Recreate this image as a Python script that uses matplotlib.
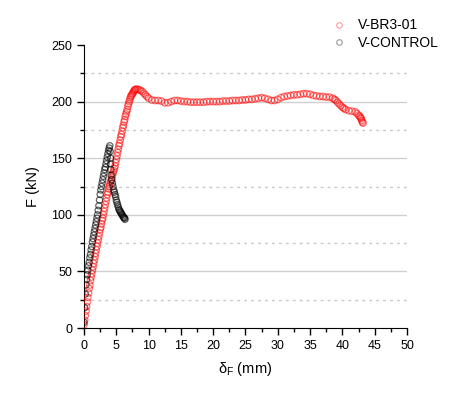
import matplotlib
matplotlib.use("Agg")
import matplotlib.pyplot as plt
from matplotlib.ticker import MultipleLocator
from matplotlib.lines import Line2D

plt.rcParams['font.family'] = ['Liberation Sans', 'DejaVu Sans']
plt.rcParams['mathtext.default'] = 'regular'

# V-BR3-01 (red): deflection (mm) and load (kN)
br3_x = [0.0, 0.1, 0.2, 0.3, 0.4, 0.5, 0.6, 0.7, 0.8, 0.9,
         1.0, 1.1, 1.2, 1.3, 1.4, 1.5, 1.6, 1.7, 1.8, 1.9,
         2.0, 2.1, 2.2, 2.3, 2.4, 2.5, 2.6, 2.7, 2.8, 2.9,
         3.0, 3.1, 3.2, 3.3, 3.4, 3.5, 3.6, 3.7, 3.8, 3.9,
         4.0, 4.1, 4.2, 4.3, 4.4, 4.5, 4.6, 4.7, 4.8, 4.9,
         5.0, 5.1, 5.2, 5.3, 5.4, 5.5, 5.6, 5.7, 5.8, 5.9,
         6.0, 6.1, 6.2, 6.3, 6.4, 6.5, 6.6, 6.7, 6.8, 6.9,
         7.0, 7.1, 7.2, 7.3, 7.4, 7.5, 7.6, 7.7, 7.8, 7.9, 8.0,
         8.25, 8.5, 8.75, 9.0, 9.25, 9.5, 9.75, 10.0, 10.5, 11.0, 11.5, 12.0, 12.5, 13.0,
         13.5, 14.0, 14.5, 15.0, 15.5, 16.0, 16.5, 17.0, 17.5, 18.0,
         18.5, 19.0, 19.5, 20.0, 20.5, 21.0, 21.5, 22.0, 22.5, 23.0,
         23.5, 24.0, 24.5, 25.0, 25.5, 26.0, 26.5, 27.0, 27.5, 28.0,
         28.5, 29.0, 29.5, 30.0, 30.5, 31.0, 31.5, 32.0, 32.5, 33.0,
         33.5, 34.0, 34.5, 35.0, 35.5, 36.0, 36.5, 37.0, 37.5, 38.0,
         38.5, 38.75, 39.0, 39.25, 39.5, 39.75, 40.0, 40.25, 40.5, 41.0, 41.5, 42.0,
         42.25, 42.5, 42.7, 42.8, 42.9, 43.0, 43.1, 43.2]
br3_f = [3, 7, 11, 15, 19, 23, 27, 31, 35, 38,
         42, 45, 48, 51, 54, 57, 60, 63, 66, 69,
         72, 75, 78, 81, 84, 87, 89, 92, 95, 97,
         100, 103, 106, 109, 112, 115, 118, 120, 123, 125,
         127, 129, 131, 133, 135, 137, 139, 141, 143, 146,
         149, 152, 155, 158, 161, 163, 166, 169, 171, 174,
         177, 179, 182, 184, 187, 189, 191, 193, 196, 198,
         200, 202, 204, 205, 206, 207, 208, 209, 210, 210.5, 211,
         211, 210.5, 210, 209, 207.5, 206, 204.5, 203, 201.5, 201, 201, 200.5, 199, 199,
         200, 201, 201, 200.5, 200, 200, 199.5, 199.5, 199.5, 199.5,
         199.5, 200, 200, 200, 200, 200, 200.5, 200.5, 200.5, 201,
         201, 201, 201.5, 201.5, 202, 202, 202.5, 203, 203.5, 203,
         202, 201, 201, 202, 203.5, 204.5, 205, 205.5, 206, 206,
         206.5, 207, 207, 206.5, 205.5, 205, 204.5, 204.5, 204, 204,
         203, 202, 201, 199.5, 198, 196.5, 195, 194, 193, 192, 191.5, 191,
         189.5, 188, 187, 186, 185, 183.5, 182, 181]

# V-CONTROL (black)
ctrl_x = [0.0, 0.1, 0.2, 0.3, 0.4, 0.5, 0.6, 0.7, 0.8, 0.9,
          1.0, 1.1, 1.2, 1.3, 1.4, 1.5, 1.6, 1.7, 1.8, 1.9,
          2.0, 2.1, 2.2, 2.3, 2.4, 2.5, 2.6, 2.7, 2.8, 2.9,
          3.0, 3.1, 3.2, 3.3, 3.4, 3.5, 3.6, 3.7, 3.8, 3.9, 4.0,
          4.05, 4.1, 4.12, 4.15, 4.2, 4.3, 4.4, 4.5, 4.6, 4.7,
          4.8, 4.9, 5.0, 5.1, 5.2, 5.3, 5.4, 5.5, 5.6, 5.7,
          5.8, 5.9, 6.0, 6.1, 6.2, 6.3, 6.35]
ctrl_f = [5, 18, 30, 38, 43, 47, 51, 55, 58, 62,
          65, 69, 72, 76, 79, 82, 85, 88, 91, 94,
          97, 100, 104, 108, 113, 118, 122, 125, 128, 131,
          134, 137, 140, 142, 145, 148, 151, 154, 157, 159, 161,
          156, 150, 145, 140, 135, 131, 128, 125, 122, 120,
          118, 116, 113, 111, 109, 107, 105, 104, 103, 102,
          101, 100, 99, 98, 97.5, 97, 96]

y_major_grid = [50, 100, 150, 200]
y_minor_grid = [25, 75, 125, 175, 225]

fig = plt.figure(figsize=(4.74, 3.95), dpi=100)
ax = fig.add_axes([0.1772, 0.1696, 0.6814, 0.7164])

for g in y_major_grid:
    ax.axhline(g, color='#d0d0d0', lw=1.0, zorder=0)
for g in y_minor_grid:
    ax.axhline(g, color='#c8c8c8', lw=1.0, ls=(0, (2, 3)), zorder=0)

red = (1, 0, 0, 0.55)
blk = (0, 0, 0, 0.6)
ax.scatter(br3_x, br3_f, s=22, facecolors='none', edgecolors=[red], linewidths=0.9, zorder=3)
ax.scatter(ctrl_x, ctrl_f, s=20, facecolors='none', edgecolors=[blk], linewidths=0.9, zorder=3)

ax.set_xlim(0, 50)
ax.set_ylim(0, 250)
ax.xaxis.set_major_locator(MultipleLocator(5))
ax.xaxis.set_minor_locator(MultipleLocator(2.5))
ax.yaxis.set_major_locator(MultipleLocator(50))
ax.yaxis.set_minor_locator(MultipleLocator(25))
ax.tick_params(which='major', direction='out', length=5, width=1, labelsize=9)
ax.tick_params(which='minor', direction='out', length=3, width=1)
ax.spines['top'].set_visible(False)
ax.spines['right'].set_visible(False)

ax.set_xlabel(r'$\delta_F$ (mm)', fontsize=10.5, labelpad=6)
ax.set_ylabel('F (kN)', fontsize=10.5, labelpad=8)

handles = [
    Line2D([], [], ls='none', marker='o', ms=4, mfc='none', mec=(1, 0, 0, 0.4), mew=0.8, label='V-BR3-01'),
    Line2D([], [], ls='none', marker='o', ms=4, mfc='none', mec=(0, 0, 0, 0.4), mew=0.8, label='V-CONTROL'),
]
fig.legend(handles=handles, loc='upper left', bbox_to_anchor=(0.675, 0.985),
           frameon=False, fontsize=10, handlelength=1.0, handletextpad=0.8,
           labelspacing=0.25)

fig.savefig('out.png', dpi=100, facecolor='white')
